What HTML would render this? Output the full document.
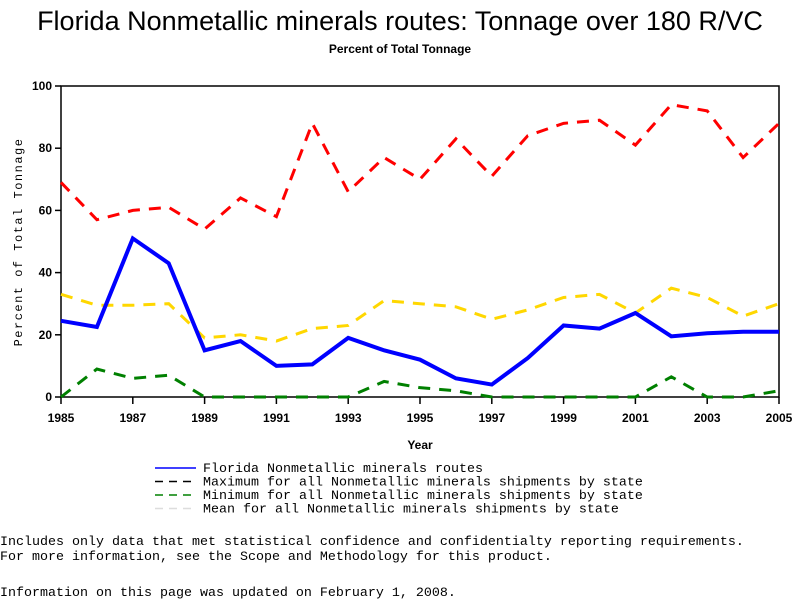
<!DOCTYPE html>
<html><head><meta charset="utf-8"><style>
body{margin:0;background:#fff;width:800px;height:600px;overflow:hidden;position:relative;font-family:"Liberation Sans",sans-serif}
.t{position:absolute;white-space:pre;color:#000}
.m{font-family:"Liberation Mono",monospace;font-size:13.33px}
</style></head><body>
<div class="t" style="left:0;width:800px;text-align:center;top:6px;font-size:27px">Florida Nonmetallic minerals routes: Tonnage over 180 R/VC</div>
<div class="t" style="left:0;width:800px;text-align:center;top:42px;font-size:12px;font-weight:bold">Percent of Total Tonnage</div>
<svg id="chart" width="800" height="600" style="position:absolute;left:0;top:0"></svg>
<div class="t m" style="left:0;top:535px">Includes only data that met statistical confidence and confidentialty reporting requirements.
For more information, see the Scope and Methodology for this product.</div>
<div class="t m" style="left:0;top:586px">Information on this page was updated on February 1, 2008.</div>
<script>
const years=[1985,1986,1987,1988,1989,1990,1991,1992,1993,1994,1995,1996,1997,1998,1999,2000,2001,2002,2003,2004,2005];
const florida=[24.5,22.5,51,43,15,18,10,10.5,19,15,12,6,4,12.5,23,22,27,19.5,20.5,21,21];
const maxVals=[69,57,60,61,54,64,58,88,66,77,70,83,71,84,88,89,81,94,92,77,88];
const minVals=[0,9,6,7,0,0,0,0,0,5,3,2,0,0,0,0,0,6.5,0,0,2];
const meanVals=[33,29.5,29.5,30,19,20,18,22,23,31,30,29,25,28,32,33,27,35,32,26,30];
const yTicks=[0,20,40,60,80,100];
const xTicks=[1985,1987,1989,1991,1993,1995,1997,1999,2001,2003,2005];
const legendLabels=["Florida Nonmetallic minerals routes","Maximum for all Nonmetallic minerals shipments by state","Minimum for all Nonmetallic minerals shipments by state","Mean for all Nonmetallic minerals shipments by state"];
const L=61,R=779,T=86,B=397;
const x=v=>L+(v-1985)/(2005-1985)*(R-L);
const y=v=>B-v/100*(B-T);
const svg=document.getElementById('chart');
const NS='http://www.w3.org/2000/svg';
function mk(tag,a){const e=document.createElementNS(NS,tag);for(const k in a)e.setAttribute(k,a[k]);svg.appendChild(e);return e;}
let fr=mk('rect',{x:L,y:T,width:R-L,height:B-T,fill:'none',stroke:'#000','stroke-width':1.5});


yTicks.forEach(v=>{
 let l=mk('line',{x1:L-6,x2:L,y1:y(v),y2:y(v),stroke:'#000','stroke-width':1.5});
 
 
 let t=mk('text',{x:L-9,y:y(v)+4,'text-anchor':'end','font-size':12,'font-weight':'bold','font-family':'Liberation Sans, sans-serif'});
 t.textContent=v;
 
 
});
xTicks.forEach(v=>{
 let l=mk('line',{x1:x(v),x2:x(v),y1:B,y2:B+7,stroke:'#000','stroke-width':1.5});
 
 
 let t=mk('text',{x:x(v),y:B+25,'text-anchor':'middle','font-size':12,'font-weight':'bold','font-family':'Liberation Sans, sans-serif'});
 t.textContent=v;
 
 
});
let xt=mk('text',{x:420,y:449,'text-anchor':'middle','font-size':12,'font-weight':'bold','font-family':'Liberation Sans, sans-serif'});
xt.textContent='Year';


let yt=mk('text',{x:22,y:242,'text-anchor':'middle','font-size':12,'letter-spacing':'1.5','font-family':'Liberation Mono, monospace',transform:'rotate(-90 22 242)'});
yt.textContent='Percent of Total Tonnage';


const series=[[maxVals,'#ff0000','12,9',3,'series-maximum'],[meanVals,'#ffd700','12,9',3,'series-mean'],[minVals,'#008000','12,9',3,'series-minimum'],[florida,'#0000ff','',4,'series-florida']];
series.forEach(([d,c,da,w,n])=>{
 let p=mk('polyline',{points:d.map((v,i)=>x(years[i])+','+y(v)).join(' '),fill:'none',stroke:c,'stroke-width':w,'stroke-dasharray':da});
 
 
});
const legStyle=[['#0000ff',''],['#000000','8,6'],['#008000','8,6'],['#dddddd','8,6']];
legendLabels.forEach((s,i)=>{
 const yy=468+i*13.5;
 let l=mk('line',{x1:155,x2:196,y1:yy,y2:yy,stroke:legStyle[i][0],'stroke-width':1.5,'stroke-dasharray':legStyle[i][1]});
 
 
 let t=mk('text',{x:203,y:yy+4,'font-size':13.33,'font-family':'Liberation Mono, monospace'});
 t.textContent=s;
 
 
});
</script>
</body></html>
